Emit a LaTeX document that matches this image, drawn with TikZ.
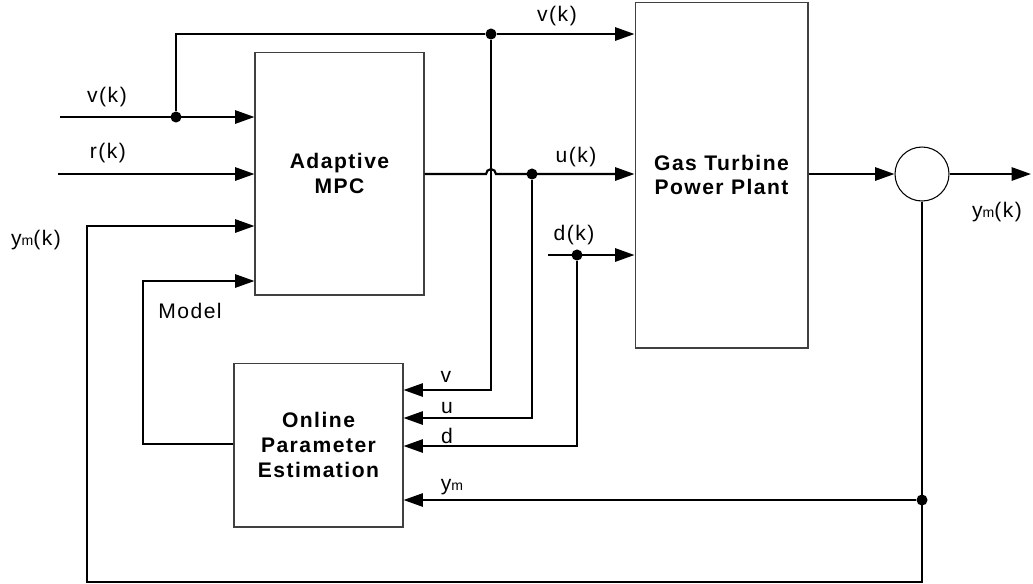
\documentclass[tikz,border=0pt]{standalone}
\usepackage{fontspec}
\setmainfont{Liberation Sans}[LetterSpace=7]
\usepackage{tikz}
\usetikzlibrary{positioning,arrows.meta}

\newcommand{\ysub}{y{\fontsize{8pt}{9pt}\selectfont m}}

\begin{document}
\begin{tikzpicture}[x=0.02cm,y=-0.02cm,>={Triangle[length=11pt,width=7.5pt]},
  every node/.style={font=\fontsize{12pt}{14pt}\selectfont,align=center,inner sep=0pt},
  block/.style={draw=black!75,line width=0.6pt,font=\fontsize{12pt}{14pt}\selectfont\bfseries},
  sig/.style={line width=1.2pt},
  junct/.style={circle,fill=black,minimum size=6.3pt}]
  \useasboundingbox (0,0) rectangle (1033,583);
  % Blocks
  \node[block,minimum width=3.38cm,minimum height=4.86cm] (mpc) at (339.5,173.5) {Adaptive\\MPC};
  \node[block,minimum width=3.46cm,minimum height=6.92cm] (plant) at (721.5,175) {Gas Turbine\\Power Plant};
  \node[block,minimum width=3.38cm,minimum height=3.28cm] (est) at (318.5,445) {Online\\Parameter\\Estimation};
  \node[draw,circle,line width=0.6pt,minimum size=1.08cm] (sum) at (922,174) {};
  % Free ends and branch points
  \coordinate (vin) at (60,117);
  \coordinate (rin) at (58,174);
  \coordinate (din) at (548,255);
  \coordinate (yout) at (1031,174);
  \coordinate (fbr) at (922,582);
  \coordinate (fbl) at (87,582);
  \node[junct] (jv1) at (176,117) {};
  \node[junct] (jv2) at (491,34) {};
  \node[junct] (ju) at (532,174) {};
  \node[junct] (jd) at (577,255) {};
  \node[junct] (jy) at (922,500) {};

  % Inputs to the controller
  \draw[sig,->] (vin) -- (mpc.west |- vin);
  \draw[sig,->] (rin) -- (mpc.west |- rin);
  \draw[sig] (jv1) |- (jv2);
  \draw[sig,->] (jv2) -- (plant.west |- jv2);
  % Controller output, hopping over the v line
  \draw[sig,->] (mpc.east |- ju) -- (486.06,174) arc[start angle=180,end angle=0,radius=2.8pt] -- (plant.west |- ju);
  \draw[sig,->] (din) -- (plant.west |- din);
  \draw[sig,->] (plant.east |- sum) -- (sum.west);
  \draw[sig,->] (sum.east) -- (yout);
  % Signals into the estimator
  \draw[sig,->] (jv2) |- (est.east |- 0,390);
  \draw[sig,->] (ju) |- (est.east |- 0,418);
  \draw[sig,->] (jd) |- (est.east |- 0,446);
  \draw[sig,->] (jy) -- (est.east |- jy);
  % Feedback and model update
  \draw[sig,->] (sum.south) -- (fbr) -- (fbl) |- (mpc.west |- 0,226);
  \draw[sig,->] (est.west |- 0,444) -| (143,281) -- (mpc.west |- 0,281);

  % Labels
  \node (lvtop) at (557,16) {v(k)};
  \node (lvin) at (107,97) {v(k)};
  \node (lrin) at (108,153) {r(k)};
  \node (lymin) at (36,240) {\ysub(k)};
  \node (lmodel) at (190,311) {Model};
  \node (lu) at (576,157) {u(k)};
  \node (ld) at (574,235) {d(k)};
  \node (lv) at (446,377) {v};
  \node (luest) at (447,408) {u};
  \node (ldest) at (447,436) {d};
  \node (lyest) at (452,487) {\ysub};
  \node (lyout) at (997,212) {\ysub(k)};
\end{tikzpicture}
\end{document}
